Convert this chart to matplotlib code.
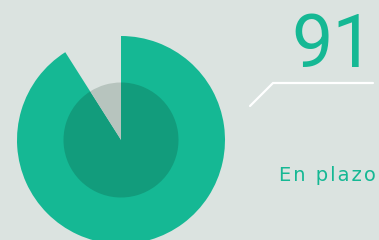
import matplotlib

matplotlib.use("Agg")
import matplotlib.pyplot as plt

# data
value = 91
label = "En plazo"
parts = [value, 100 - value]

bg = "#dbe3e0"
green = "#15b894"
green_dark = "#129c7c"
grey = "#b7c4be"

W, H = 379, 240
fig = plt.figure(figsize=(W / 100, H / 100), dpi=100, facecolor=bg)

# pie axes: centre (121, 140) px, outer radius 104 px
cx, cy, r = 121, 140, 104
pax = fig.add_axes([(cx - r) / W, (H - cy - r) / H, 2 * r / W, 2 * r / H])
pax.set_facecolor("none")
pax.pie(parts, radius=1, startangle=90, counterclock=False,
        colors=[green, "none"], wedgeprops=dict(linewidth=0))
pax.pie(parts, radius=57.5 / r, startangle=90, counterclock=False,
        colors=[green_dark, grey], wedgeprops=dict(linewidth=0))
pax.set_xlim(-1, 1)
pax.set_ylim(-1, 1)
pax.axis("off")

# overlay axes in pixel coords for text and connector
ax = fig.add_axes([0, 0, 1, 1])
ax.set_xlim(0, W)
ax.set_ylim(H, 0)
ax.axis("off")
ax.plot([250, 273, 373], [106, 83, 83], color="white", lw=1.6,
        solid_capstyle="round", solid_joinstyle="miter")
ax.text(374, 67, str(value), ha="right", va="baseline", color=green,
        fontsize=53, family=["Liberation Sans Narrow", "Roboto"])
ax.text(376, 181, "\u200a".join(label), ha="right",
        va="baseline", color=green, fontsize=14, family="DejaVu Sans")

fig.savefig("out.png", dpi=100, facecolor=bg)
